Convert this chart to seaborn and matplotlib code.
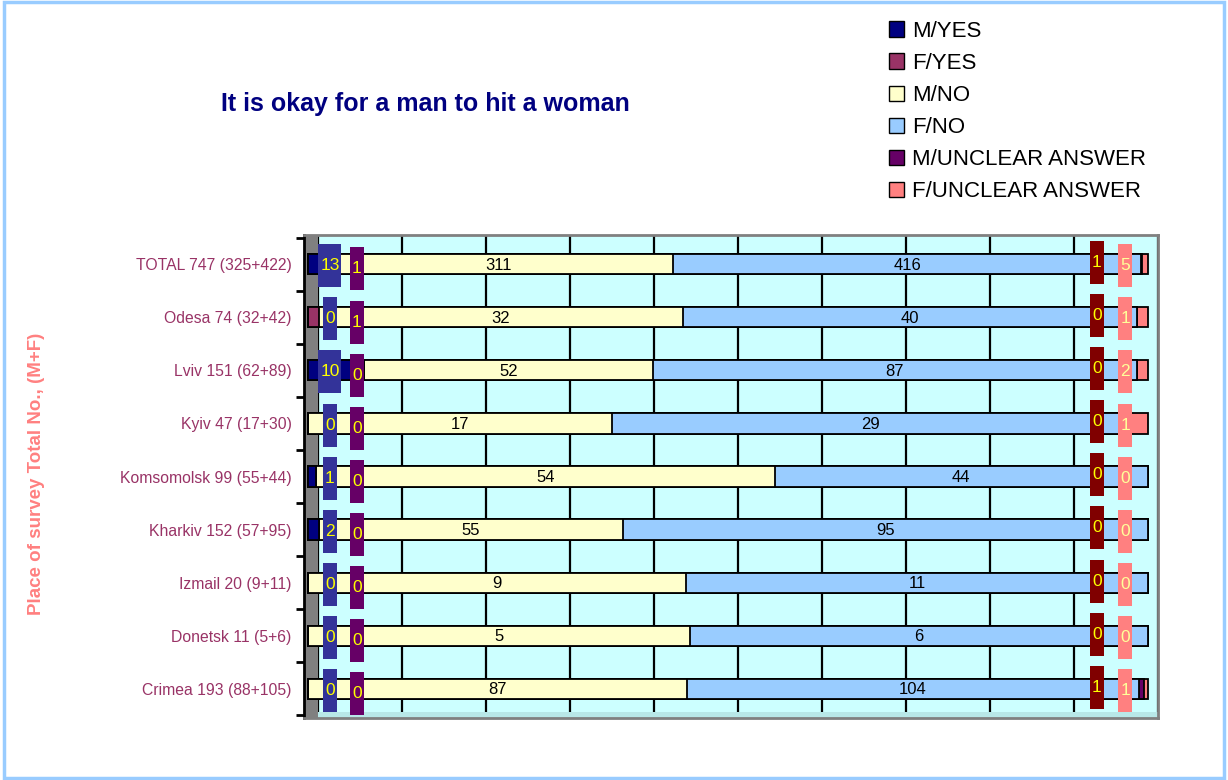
import numpy as np
import pandas as pd
import seaborn as sns
import matplotlib.pyplot as plt
from matplotlib.patches import Patch, Rectangle

# ---------------------------------------------------------------------------
# Data (counts per place)
# ---------------------------------------------------------------------------
places = ['TOTAL 747 (325+422)', 'Odesa 74 (32+42)', 'Lviv 151 (62+89)',
          'Kyiv 47 (17+30)', 'Komsomolsk 99 (55+44)', 'Kharkiv 152 (57+95)',
          'Izmail 20 (9+11)', 'Donetsk 11 (5+6)', 'Crimea 193 (88+105)']
series = ['M/YES', 'F/YES', 'M/NO', 'F/NO', 'M/UNCLEAR ANSWER', 'F/UNCLEAR ANSWER']

m_yes = [13, 0, 10, 0, 1, 2, 0, 0, 0]
f_yes = [1, 1, 0, 0, 0, 0, 0, 0, 0]
m_no = [311, 32, 52, 17, 54, 55, 9, 5, 87]
f_no = [416, 40, 87, 29, 44, 95, 11, 6, 104]
m_unclear = [1, 0, 0, 0, 0, 0, 0, 0, 1]
f_unclear = [5, 1, 2, 1, 0, 0, 0, 0, 1]

colors = ['#000080', '#993366', '#FFFFCC', '#99CCFF', '#660066', '#FF8080']
label_box = {0: '#333399', 1: '#660066', 4: '#800000', 5: '#FF8080'}
label_txt = {0: '#FFFF00', 1: '#FFFF00', 4: '#FFFF00', 5: '#FFFF99'}

counts = pd.DataFrame(dict(zip(series, [m_yes, f_yes, m_no, f_no, m_unclear, f_unclear])),
                      index=places)
pct = counts.div(counts.sum(axis=1), axis=0) * 100
cum = pct.cumsum(axis=1)

# ---------------------------------------------------------------------------
# Figure
# ---------------------------------------------------------------------------
sns.set_theme(style='white')
plt.rcParams['font.family'] = ['Liberation Sans', 'DejaVu Sans']
plt.rcParams['text.color'] = 'black'

W, H = 1228, 780
fig = plt.figure(figsize=(W / 100, H / 100), dpi=100)
fig.patch.set_facecolor('white')

# axes spans pixels x 304..1158, y 235..718
ax = fig.add_axes([304 / W, 1 - 718 / H, (1158 - 304) / W, (718 - 235) / H])
ax.set_facecolor('#CCFFFF')

px = 8.4  # pixels per percent
x_left = -4 / px
x_right = 100 + 10 / px

# back wall grid lines (shifted for the 3D look)
for k in range(11):
    ax.axvline(10 * k + 10 / px, color='black', lw=1.6, zorder=0.5)
ax.add_patch(Rectangle((x_left, -0.6), 10 / px - x_left, 9.2,
                       facecolor='#808080', edgecolor='none', zorder=0.6))
# floor of the 3D box
ax.add_patch(Rectangle((10 / px, 8.43), 100, 0.2, facecolor='#B8E8E8',
                       edgecolor='none', zorder=0.7))

# stacked bars: draw cumulative totals from the last series backwards
for i in reversed(range(len(series))):
    sns.barplot(x=cum.iloc[:, i].values, y=places, orient='h', color=colors[i],
                saturation=1, width=0.38, edgecolor='black', linewidth=1.3,
                ax=ax, zorder=2)

# data labels
box_x = {0: 2.6, 1: 5.8, 4: 93.9, 5: 97.3}
box_dy = {0: 0.03, 1: 0.09, 4: -0.03, 5: 0.03}
for r in range(len(places)):
    for i in range(len(series)):
        v = counts.iloc[r, i]
        if i in (2, 3):
            xc = cum.iloc[r, i] - pct.iloc[r, i] / 2
            ax.text(xc, r + 0.02, str(v), ha='center', va='center',
                    fontsize=12, color='black', zorder=5)
        else:
            bw = (14 if v < 10 else 23) / px
            bh = 43 / 53.1
            yc = r + box_dy[i]
            ax.add_patch(Rectangle((box_x[i] - bw / 2, yc - bh / 2), bw, bh,
                                   facecolor=label_box[i], edgecolor='none', zorder=4))
            ax.text(box_x[i], yc, str(v), ha='center', va='center',
                    fontsize=12.5, color=label_txt[i], zorder=5)

ax.set_xlim(x_left, x_right)
ax.set_ylim(8.55, -0.55)
ax.set_xlabel('')
ax.set_ylabel('')
ax.set_xticks([])
ax.set_yticks(range(len(places)))
ax.set_yticklabels(places, color='#993366', fontsize=11.3)
ax.set_yticks(np.arange(-0.5, len(places), 1), minor=True)
ax.tick_params(axis='y', which='major', length=0, pad=9)
ax.tick_params(axis='y', which='minor', length=6, width=2, color='black', direction='out', left=True)

for side in ['top', 'right', 'bottom']:
    ax.spines[side].set_color('#808080')
    ax.spines[side].set_linewidth(2)
ax.spines['left'].set_color('black')
ax.spines['left'].set_linewidth(2)

# titles
fig.text(425 / W, 1 - 104 / H, 'It is okay for a man to hit a woman', ha='center', va='center',
         fontsize=18, fontweight='bold', color='#000080')
fig.text(37 / W, 1 - 474 / H, 'Place of survey Total No., (M+F)', rotation=90, ha='center',
         va='center', fontsize=13.5, fontweight='bold', color='#FF8080')

# legend
handles = [Patch(facecolor=c, edgecolor='black', label=s) for c, s in zip(colors, series)]
leg = fig.legend(handles=handles, loc='upper left', bbox_to_anchor=(880 / W, 1 - 12 / H),
                 frameon=False, fontsize=16, handlelength=0.7, handleheight=0.7,
                 handletextpad=0.35, labelspacing=0.5, borderaxespad=0)
for t in leg.get_texts():
    t.set_color('black')

# outer chart border
fig.add_artist(Rectangle((0.003, 0.003), 0.994, 0.994, transform=fig.transFigure,
                         fill=False, edgecolor='#99CCFF', linewidth=2.5))

fig.savefig('out.png', dpi=100)
